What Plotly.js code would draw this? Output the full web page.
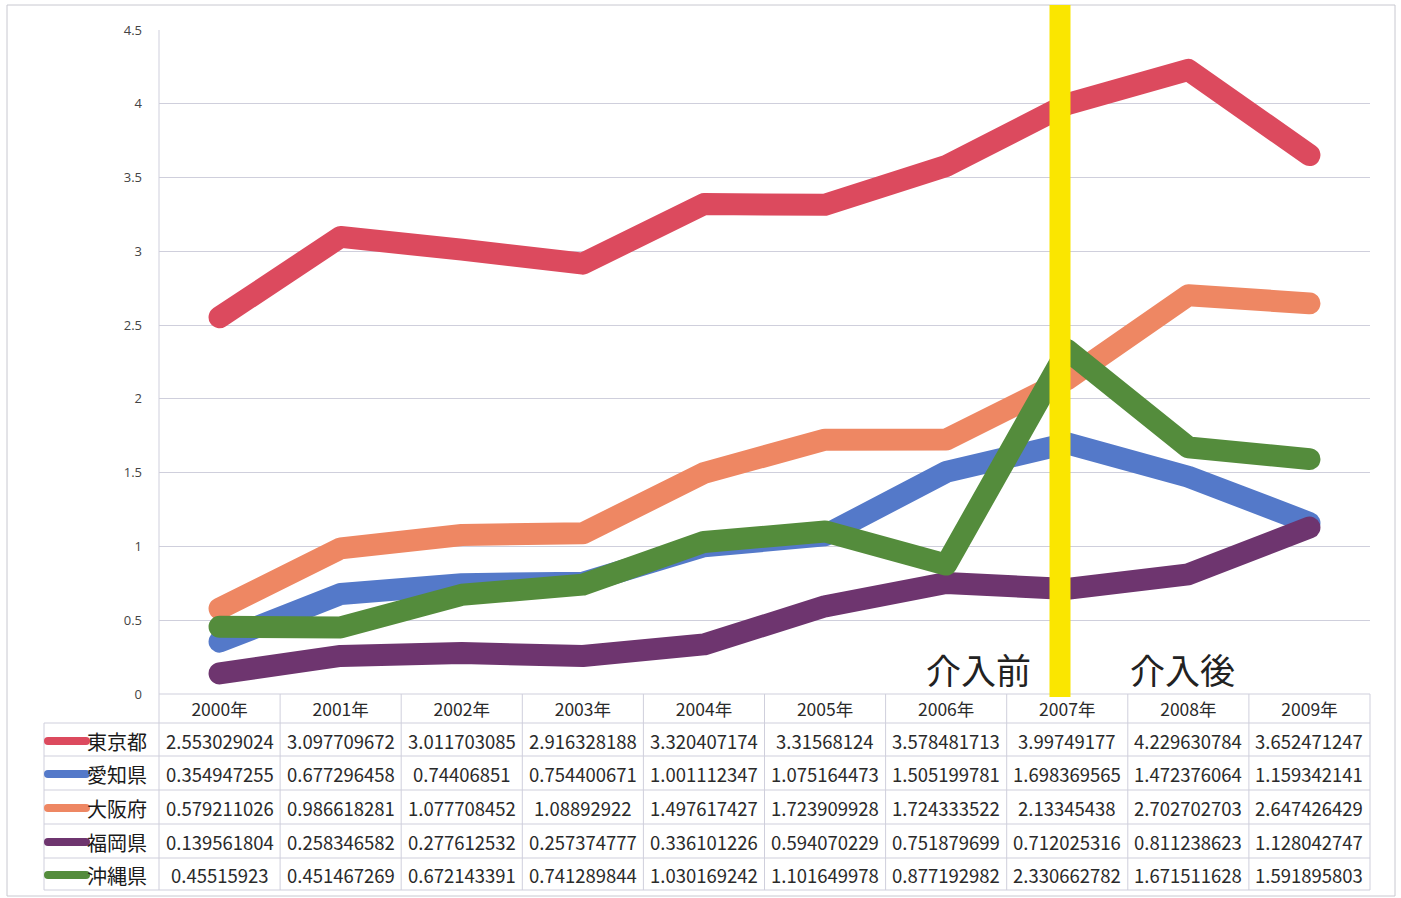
<!DOCTYPE html>
<html>
<head>
<meta charset="utf-8">
<script src="https://cdn.plot.ly/plotly-3.0.1.min.js"></script>
<style>
  body { margin: 0; background: #fff; }
  #chart { width: 1401px; height: 898px; }
  .scatterlayer .js-line { stroke-linejoin: round !important; stroke-linecap: round !important; }
</style>
</head>
<body>
<div id="chart"></div>
<script>
// ---- data ----
var years = ["2000年","2001年","2002年","2003年","2004年","2005年","2006年","2007年","2008年","2009年"];
var seriesNames = ["東京都","愛知県","大阪府","福岡県","沖縄県"];
var tokyo   = [2.553029024,3.097709672,3.011703085,2.916328188,3.320407174,3.31568124,3.578481713,3.99749177,4.229630784,3.652471247];
var aichi   = [0.354947255,0.677296458,0.74406851,0.754400671,1.001112347,1.075164473,1.505199781,1.698369565,1.472376064,1.159342141];
var osaka   = [0.579211026,0.986618281,1.077708452,1.08892922,1.497617427,1.723909928,1.724333522,2.13345438,2.702702703,2.647426429];
var fukuoka = [0.139561804,0.258346582,0.277612532,0.257374777,0.336101226,0.594070229,0.751879699,0.712025316,0.811238623,1.128042747];
var okinawa = [0.45515923,0.451467269,0.672143391,0.741289844,1.030169242,1.101649978,0.877192982,2.330662782,1.671511628,1.591895803];
var yTicks = [0,0.5,1,1.5,2,2.5,3,3.5,4,4.5];
var yTickLabels = ["0","0.5","1","1.5","2","2.5","3","3.5","4","4.5"];
var beforeLabel = "介入前";
var afterLabel = "介入後";

var allSeries = [tokyo, aichi, osaka, fukuoka, okinawa];
var colors = ["#dc4a5e", "#5479c9", "#ee8763", "#6e356f", "#548c3c"];

// ---- geometry (pixels) ----
var W = 1401, H = 898;
var L = 159, R = 1370, T = 30, B = 694;
function px(x) { return (x - L) / (R - L); }
function py(y) { return (B - y) / (B - T); }

var traces = [];
var drawOrder = [0, 2, 1, 3, 4];
drawOrder.forEach(function (i) {
  traces.push({
    type: "scatter", mode: "lines",
    x: years, y: allSeries[i], name: seriesNames[i],
    line: { color: colors[i], width: 22 },
    cliponaxis: false,
    hoverinfo: "x+y+name"
  });
});

var gridColor = "#cfcfdc";
var shapes = [];
var annotations = [];

// outer frame
shapes.push({ type: "rect", xref: "paper", yref: "paper",
  x0: px(7), x1: px(1395), y0: py(896), y1: py(5),
  line: { color: "#c8c8d0", width: 1 }, fillcolor: "rgba(0,0,0,0)", layer: "below" });

// table grid
var rowLines = [723, 756, 790, 824, 858, 890];
shapes.push({ type: "line", xref: "paper", yref: "paper", x0: px(L), x1: px(R), y0: py(694), y1: py(694), line: { color: gridColor, width: 1 } });
rowLines.forEach(function (yy) {
  shapes.push({ type: "line", xref: "paper", yref: "paper", x0: px(44), x1: px(R), y0: py(yy), y1: py(yy), line: { color: gridColor, width: 1 } });
});
shapes.push({ type: "line", xref: "paper", yref: "paper", x0: px(44), x1: px(44), y0: py(723), y1: py(890), line: { color: gridColor, width: 1 } });
for (var c = 0; c <= years.length; c++) {
  var xx = L + c * (R - L) / years.length;
  shapes.push({ type: "line", xref: "paper", yref: "paper", x0: px(xx), x1: px(xx), y0: py(c === 0 ? T : 694), y1: py(890), line: { color: gridColor, width: 1 } });
}

// table contents
var rowCenters = [741, 774, 808, 842, 875];
seriesNames.forEach(function (name, r) {
  var yc = py(rowCenters[r]);
  shapes.push({ type: "line", xref: "paper", yref: "paper", x0: px(48), x1: px(86), y0: yc, y1: yc, line: { color: colors[r], width: 8 } });
  annotations.push({ xref: "paper", yref: "paper", x: px(149), y: yc, xanchor: "right", yanchor: "middle",
    text: name, showarrow: false, font: { family: "Noto Sans CJK JP", size: 20, color: "#1a1a1a" } });
  allSeries[r].forEach(function (v, k) {
    annotations.push({ xref: "x", yref: "paper", x: years[k], y: yc, xanchor: "center", yanchor: "middle",
      text: String(v), showarrow: false, font: { family: "Noto Sans CJK JP", size: 18.5, color: "#2a2a2a" } });
  });
});

// intervention marker
shapes.push({ type: "line", xref: "paper", yref: "paper", x0: px(1060), x1: px(1060), y0: py(697), y1: py(5),
  line: { color: "#fae600", width: 21 }, layer: "above" });
annotations.push({ xref: "paper", yref: "paper", x: px(978), y: py(668), xanchor: "center", yanchor: "middle",
  text: beforeLabel, showarrow: false, font: { family: "Noto Sans CJK JP", size: 35, color: "#222" } });
annotations.push({ xref: "paper", yref: "paper", x: px(1182), y: py(668), xanchor: "center", yanchor: "middle",
  text: afterLabel, showarrow: false, font: { family: "Noto Sans CJK JP", size: 35, color: "#222" } });

var layout = {
  width: W, height: H,
  margin: { l: L, r: W - R, t: T, b: H - B, pad: 0 },
  paper_bgcolor: "#fff", plot_bgcolor: "#fff",
  showlegend: false,
  font: { family: "Noto Sans CJK JP", color: "#333" },
  xaxis: {
    type: "category", categoryorder: "array", categoryarray: years,
    range: [-0.5, 9.5], showgrid: false, zeroline: false, showline: false,
    ticks: "", ticklabelstandoff: 3,
    tickfont: { family: "Noto Sans CJK JP", size: 17.5, color: "#2a2a2a" }
  },
  yaxis: {
    range: [0, 4.5], tickvals: yTicks, ticktext: yTickLabels,
    showgrid: true, gridcolor: gridColor, gridwidth: 1,
    zeroline: false, showline: false, ticks: "", ticklabelstandoff: 16,
    tickfont: { family: "Open Sans", size: 13, color: "#444" }
  },
  shapes: shapes,
  annotations: annotations
};

Plotly.newPlot("chart", traces, layout, { displayModeBar: false, staticPlot: true }).then(function () {
  document.querySelectorAll(".shapelayer path").forEach(function (p) {
    var st = p.getAttribute("style") || "";
    if (p.style.strokeWidth === "8px" || st.indexOf("stroke-width: 8px") >= 0) {
      p.style.strokeLinecap = "round";
    }
  });
});
</script>
</body>
</html>
